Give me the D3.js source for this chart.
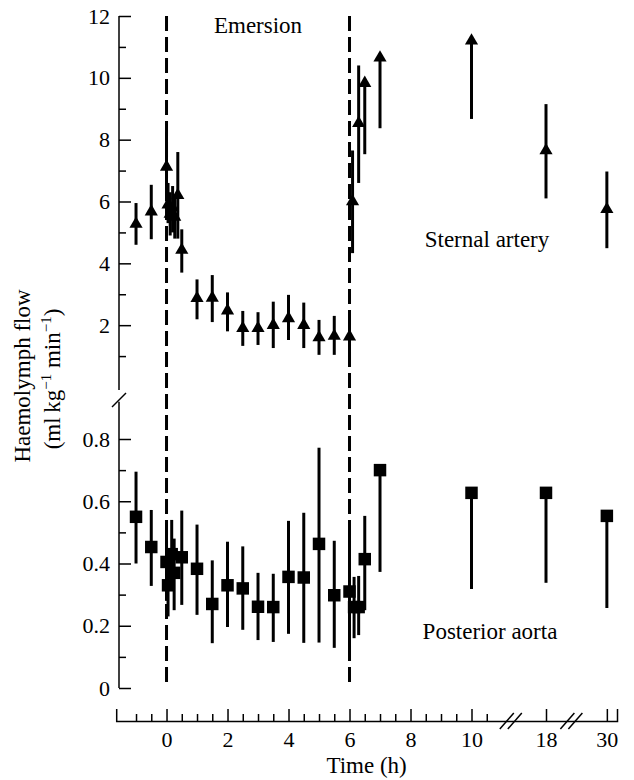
<!DOCTYPE html>
<html>
<head>
<meta charset="utf-8">
<script src="https://cdn.jsdelivr.net/npm/d3@7"></script>
<style>
  html, body { margin: 0; padding: 0; background: #fff; }
  svg { display: block; }
  text { font-family: "Liberation Serif", "Times New Roman", serif; fill: #000; }
</style>
</head>
<body>
<svg id="chart" width="634" height="780"></svg>
<script>
// ---------- data ----------
// Sternal artery (upper panel, ml kg-1 min-1)
const sternalTime = [-1, -0.5, 0, 0.05, 0.12, 0.2, 0.27, 0.37, 0.5, 1, 1.5, 2, 2.5, 3, 3.5, 4, 4.5, 5, 5.5, 6, 6.1, 6.3, 6.5, 7, 10, 18, 30];
const sternalMean = [5.27, 5.67, 7.12, 5.9, 5.6, 5.8, 5.5, 6.2, 4.43, 2.87, 2.88, 2.47, 1.9, 1.9, 2.0, 2.22, 2.0, 1.6, 1.65, 1.63, 6.0, 8.53, 9.83, 10.65, 11.2, 7.65, 5.75];
const sternalLow  = [4.6, 4.78, 6.0, 5.3, 4.9, 5.0, 4.8, 4.8, 3.7, 2.19, 2.1, 1.8, 1.33, 1.36, 1.26, 1.52, 1.26, 1.04, 1.04, 0.9, 4.33, 6.6, 7.53, 8.37, 8.67, 6.1, 4.49];
const sternalHigh = [5.95, 6.54, 8.25, 6.6, 6.3, 6.5, 6.2, 7.6, 5.1, 3.48, 3.62, 3.06, 2.46, 2.42, 2.76, 2.98, 2.73, 2.17, 2.3, 2.35, 7.65, 10.4, 9.83, 10.65, 11.2, 9.15, 6.97];

// Posterior aorta (lower panel)
const aortaTime = [-1, -0.5, 0, 0.05, 0.17, 0.25, 0.5, 1, 1.5, 2, 2.5, 3, 3.5, 4, 4.5, 5, 5.5, 6, 6.15, 6.3, 6.5, 7, 10, 18, 30];
const aortaMean = [0.55, 0.453, 0.405, 0.33, 0.43, 0.37, 0.42, 0.383, 0.27, 0.33, 0.32, 0.261, 0.26, 0.357, 0.355, 0.463, 0.298, 0.31, 0.26, 0.26, 0.414, 0.70, 0.627, 0.627, 0.553];
const aortaLow  = [0.40, 0.328, 0.28, 0.23, 0.32, 0.25, 0.267, 0.235, 0.144, 0.196, 0.187, 0.154, 0.148, 0.174, 0.145, 0.146, 0.129, 0.113, 0.16, 0.17, 0.25, 0.373, 0.318, 0.338, 0.257];
const aortaHigh = [0.695, 0.572, 0.53, 0.43, 0.54, 0.48, 0.57, 0.525, 0.41, 0.47, 0.455, 0.37, 0.367, 0.537, 0.563, 0.772, 0.473, 0.50, 0.357, 0.36, 0.553, 0.70, 0.627, 0.627, 0.553];

// axes
const xMajorTicks = [0, 2, 4, 6, 8, 10, 18, 30];
const xMinorTicks = [-1, -0.5, 0.5, 1, 1.5, 2.5, 3, 3.5, 4.5, 5, 5.5, 6.5, 7, 7.5, 8.5, 9, 9.5, 10.5];
const xBreaks = [12.4, 23];
const emersionBounds = [0, 6];
const topMajorTicks = [2, 4, 6, 8, 10, 12];
const topMinorTicks = [1, 3, 5, 7, 9, 11];
const botMajorTicks = [0, 0.2, 0.4, 0.6, 0.8];
const botMinorTicks = [0.1, 0.3, 0.5, 0.7];

// ---------- scales ----------
const svg = d3.select("#chart");
const x = d3.scaleLinear().domain([-1.65, 11, 18, 32]).range([116.2, 502, 546, 617]);
const yTop = d3.scaleLinear().domain([0, 12]).range([387, 16]);
const yBot = d3.scaleLinear().domain([0, 0.8]).range([688, 439]);
const axisX = 119;      // y-axis position
const axisY = 721;      // x-axis position

const FS_TICK = 22, FS_LAB = 23;

// ---------- dashed emersion lines ----------
svg.append("g").selectAll("line").data(emersionBounds).join("line")
  .attr("x1", d => x(d)).attr("x2", d => x(d))
  .attr("y1", yTop(12)).attr("y2", yBot(0))
  .attr("stroke", "#000").attr("stroke-width", 3).attr("stroke-dasharray", "15,6");

// ---------- y axes ----------
function styleAxis(g) {
  g.select(".domain").remove();
  g.selectAll(".tick line").attr("stroke", "#000").attr("stroke-width", 1.5);
  g.selectAll(".tick text").attr("font-size", FS_TICK)
    .attr("font-family", "'Liberation Serif', 'Times New Roman', serif");
}
const gTop = svg.append("g").attr("transform", `translate(${axisX},0)`);
gTop.call(d3.axisLeft(yTop).tickValues(topMajorTicks).tickSize(-12).tickPadding(9).tickFormat(d3.format("d"))).call(styleAxis);
gTop.append("g").call(d3.axisLeft(yTop).tickValues(topMinorTicks).tickSize(-7).tickFormat("")).call(styleAxis);
gTop.append("line").attr("x1", 0).attr("x2", 0).attr("y1", yTop(12)).attr("y2", yTop(-0.1))
  .attr("stroke", "#000").attr("stroke-width", 1.5);

const gBot = svg.append("g").attr("transform", `translate(${axisX},0)`);
gBot.call(d3.axisLeft(yBot).tickValues(botMajorTicks).tickSize(-12).tickPadding(9).tickFormat(d => d === 0 ? "0" : d3.format(".1f")(d))).call(styleAxis);
gBot.append("g").call(d3.axisLeft(yBot).tickValues(botMinorTicks).tickSize(-7).tickFormat("")).call(styleAxis);
gBot.append("line").attr("x1", 0).attr("x2", 0).attr("y1", yBot(0)).attr("y2", yBot(0.92))
  .attr("stroke", "#000").attr("stroke-width", 1.5);
// axis break slash
svg.append("line").attr("x1", axisX - 7).attr("y1", 407).attr("x2", axisX + 7).attr("y2", 393)
  .attr("stroke", "#000").attr("stroke-width", 1.5);

// ---------- x axis ----------
const gX = svg.append("g").attr("transform", `translate(0,${axisY})`);
gX.call(d3.axisBottom(x).tickValues(xMajorTicks).tickSize(-12).tickPadding(10).tickFormat(d3.format("d"))).call(g => {
  g.select(".domain").attr("stroke", "#000").attr("stroke-width", 1.5);
  g.selectAll(".tick line").attr("stroke", "#000").attr("stroke-width", 1.5);
  g.selectAll(".tick text").attr("font-size", FS_TICK)
    .attr("font-family", "'Liberation Serif', 'Times New Roman', serif");
});
gX.append("g").call(d3.axisBottom(x).tickValues(xMinorTicks).tickSize(-7).tickFormat("")).call(g => {
  g.select(".domain").remove();
  g.selectAll(".tick line").attr("stroke", "#000").attr("stroke-width", 1.5);
});
// x axis break marks
xBreaks.forEach(b => {
  const cx = x(b);
  [-4, 4].forEach(off => {
    gX.append("line")
      .attr("x1", cx + off - 7).attr("y1", 8).attr("x2", cx + off + 7).attr("y2", -8)
      .attr("stroke", "#000").attr("stroke-width", 1.5);
  });
});

// ---------- error bars and markers ----------
const sternal = sternalTime.map((t, i) => ({ t, m: sternalMean[i], lo: sternalLow[i], hi: sternalHigh[i] }));
const aorta = aortaTime.map((t, i) => ({ t, m: aortaMean[i], lo: aortaLow[i], hi: aortaHigh[i] }));

svg.append("g").selectAll("line").data(sternal).join("line")
  .attr("x1", d => x(d.t)).attr("x2", d => x(d.t))
  .attr("y1", d => yTop(d.lo)).attr("y2", d => yTop(d.hi))
  .attr("stroke", "#000").attr("stroke-width", 3);
svg.append("g").selectAll("path").data(sternal).join("path")
  .attr("d", d3.symbol(d3.symbolTriangle, 75))
  .attr("transform", d => `translate(${x(d.t)},${yTop(d.m)})`)
  .attr("fill", "#000");

svg.append("g").selectAll("line").data(aorta).join("line")
  .attr("x1", d => x(d.t)).attr("x2", d => x(d.t))
  .attr("y1", d => yBot(d.lo)).attr("y2", d => yBot(d.hi))
  .attr("stroke", "#000").attr("stroke-width", 3);
svg.append("g").selectAll("path").data(aorta).join("path")
  .attr("d", d3.symbol(d3.symbolSquare, 156))
  .attr("transform", d => `translate(${x(d.t)},${yBot(d.m)})`)
  .attr("fill", "#000");

// ---------- labels ----------
svg.append("text").attr("x", (x(0) + x(6)) / 2).attr("y", 33)
  .attr("text-anchor", "middle").attr("font-size", FS_LAB).text("Emersion");
svg.append("text").attr("x", 487).attr("y", 247)
  .attr("text-anchor", "middle").attr("font-size", FS_LAB).text("Sternal artery");
svg.append("text").attr("x", 490).attr("y", 639)
  .attr("text-anchor", "middle").attr("font-size", FS_LAB).text("Posterior aorta");
svg.append("text").attr("x", (x(-1.65) + x(32)) / 2).attr("y", 773)
  .attr("text-anchor", "middle").attr("font-size", FS_LAB).text("Time (h)");

svg.append("text").attr("transform", "translate(30,376) rotate(-90)")
  .attr("text-anchor", "middle").attr("font-size", FS_LAB).text("Haemolymph flow");
const t2 = svg.append("text").attr("transform", "translate(60,379) rotate(-90)")
  .attr("text-anchor", "middle").attr("font-size", FS_LAB);
t2.append("tspan").text("(ml\u2009kg");
t2.append("tspan").attr("font-size", 15).attr("dy", -9).text("\u22121");
t2.append("tspan").attr("dy", 9).text(" min");
t2.append("tspan").attr("font-size", 15).attr("dy", -9).text("\u22121");
t2.append("tspan").attr("dy", 9).text(")");
</script>
</body>
</html>
